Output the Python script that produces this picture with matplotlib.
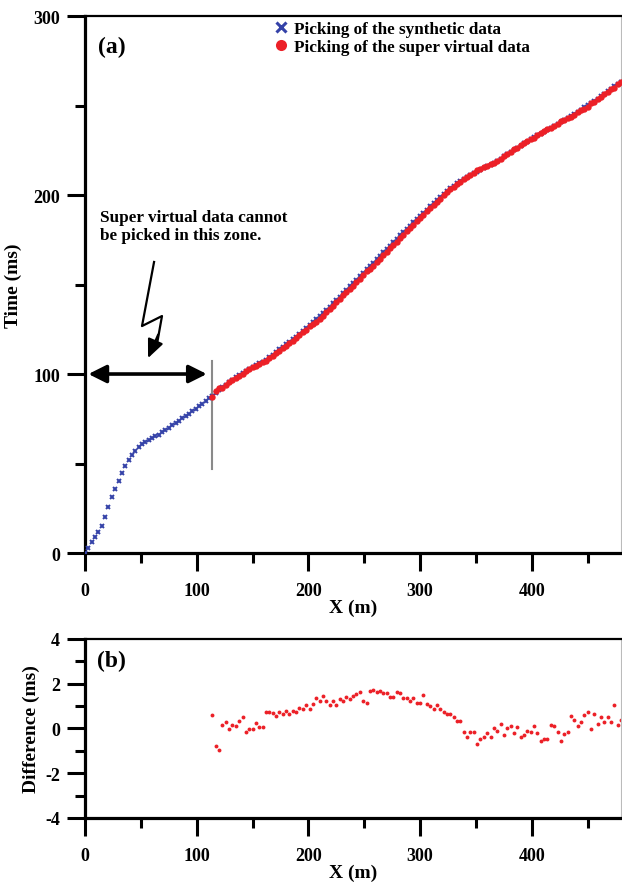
import numpy as np
import matplotlib
matplotlib.use('Agg')
import matplotlib.pyplot as plt
from matplotlib.lines import Line2D

plt.rcParams['font.family'] = 'Liberation Serif'
plt.rcParams['font.weight'] = 'bold'
plt.rcParams['axes.unicode_minus'] = False

# receiver positions (m), 3 m spacing
x_syn = np.arange(0, 481, 3)

# first-arrival picks of the synthetic data (ms)
t_syn = [0, 3.0, 6.0, 8.8, 11.5, 15.0, 20.3, 25.5, 31.4, 36.0,
         40.2, 44.5, 48.6, 51.8, 54.5, 57.2, 59.3, 61.0, 62.2, 63.1,
         64.0, 65.1, 66.2, 67.5, 68.8, 70.0, 71.3, 72.6, 73.9, 75.2,
         76.5, 77.8, 79.1, 80.5, 81.9, 83.4, 84.9, 86.4, 87.9, 89.5,
         91.0, 92.5, 94.0, 95.4, 96.8, 98.1, 99.4, 100.6, 101.7, 102.8,
         103.9, 104.9, 105.9, 106.9, 108.0, 109.4, 110.8, 112.3, 113.8, 115.3,
         116.7, 118.1, 119.4, 120.9, 122.5, 124.2, 125.9, 127.5, 129.0, 130.5,
         132.2, 134.0, 135.8, 137.6, 139.4, 141.3, 143.3, 145.2, 147.1, 149.0,
         150.9, 152.8, 154.7, 156.7, 158.6, 160.5, 162.3, 164.2, 166.1, 168.0,
         169.8, 171.7, 173.6, 175.5, 177.4, 179.3, 181.1, 182.9, 184.7, 186.5,
         188.3, 190.1, 191.9, 193.7, 195.5, 197.2, 198.9, 200.6, 202.2, 203.8,
         205.2, 206.5, 207.7, 208.8, 209.9, 211.0, 212.1, 213.1, 214.1, 215.1,
         216.0, 217.0, 218.0, 219.1, 220.3, 221.6, 222.9, 224.1, 225.3, 226.5,
         227.6, 228.8, 229.9, 231.1, 232.2, 233.3, 234.3, 235.4, 236.4, 237.5,
         238.5, 239.6, 240.7, 241.8, 242.9, 244.1, 245.3, 246.5, 247.7, 248.9,
         250.1, 251.3, 252.5, 253.8, 255.1, 256.5, 257.9, 259.3, 260.7, 262.0,
         263.3]

# super virtual picks exist only from 114 m on
first_sv = 38
x_sv = x_syn[first_sv:]

# difference synthetic - super virtual (ms)
diff = [0.60, -0.77, -0.96, 0.16, 0.30, -0.02, 0.16, 0.13, 0.35, 0.50,
        -0.17, -0.02, -0.02, 0.23, 0.06, 0.06, 0.72, 0.72, 0.68, 0.57,
        0.72, 0.65, 0.80, 0.65, 0.80, 0.72, 0.90, 0.87, 1.05, 0.87,
        1.10, 1.35, 1.24, 1.43, 1.24, 1.05, 1.24, 1.05, 1.31, 1.24,
        1.42, 1.31, 1.46, 1.54, 1.64, 1.24, 1.16, 1.69, 1.73, 1.64,
        1.69, 1.58, 1.58, 1.42, 1.42, 1.64, 1.57, 1.36, 1.36, 1.24,
        1.36, 1.16, 1.16, 1.50, 1.10, 1.02, 0.87, 1.05, 0.87, 0.72,
        0.65, 0.65, 0.50, 0.35, 0.35, -0.15, -0.36, -0.17, -0.15, -0.70,
        -0.47, -0.40, -0.20, -0.40, 0.00, -0.10, 0.20, -0.30, 0.01, 0.10,
        -0.20, 0.08, -0.40, -0.28, -0.10, -0.17, 0.13, -0.20, -0.55, -0.47,
        -0.47, 0.16, 0.13, -0.15, -0.55, -0.25, -0.17, 0.57, 0.40, 0.10,
        0.30, 0.60, 0.72, -0.02, 0.65, 0.20, 0.50, 0.28, 0.50, 0.30,
        1.05, 0.16, 0.40]

t_sv = np.array(t_syn[first_sv:]) - np.array(diff)

BLUE = '#3442a8'
RED = '#ec2027'

fig = plt.figure(figsize=(6.22, 8.87), dpi=100)
ax1 = fig.add_axes([0.1367, 0.3754, 0.862, 0.6054])
ax2 = fig.add_axes([0.1367, 0.0767, 0.862, 0.2018])


def style_axis(ax):
    for s in ['left', 'bottom']:
        ax.spines[s].set_linewidth(2.3)
    ax.spines['top'].set_linewidth(1.6)
    ax.spines['right'].set_linewidth(0.8)
    ax.spines['right'].set_color('#bbbbbb')
    ax.tick_params(which='major', direction='out', length=13, width=2.2,
                   labelsize=13, top=False, right=False)
    ax.tick_params(axis='x', which='major', pad=8)
    ax.tick_params(axis='y', which='major', pad=5)
    ax.tick_params(which='minor', direction='out', length=7, width=2.2,
                   top=False, right=False)
    ax.set_xlim(0, 480)
    ax.set_xticks([0, 100, 200, 300, 400])
    ax.set_xticks([50, 150, 250, 350, 450], minor=True)
    for lab in ax.get_xticklabels() + ax.get_yticklabels():
        lab.set_fontweight('bold')


# (a) picks
ax1.plot(x_syn, t_syn, linestyle='none', marker='x', ms=3.2, mew=1.4,
         color=BLUE, zorder=3)
ax1.plot(x_sv, t_sv, linestyle='none', marker='o', ms=4.6, mew=0,
         color=RED, zorder=4)
style_axis(ax1)
ax1.set_ylim(0, 300)
ax1.set_yticks([0, 100, 200, 300])
ax1.set_yticks([50, 150, 250], minor=True)
ax1.set_xlabel('X (m)', fontsize=14, fontweight='bold', labelpad=0)
ax1.set_ylabel('Time (ms)', fontsize=14, fontweight='bold', labelpad=8)
ax1.text(11.5, 289, '(a)', fontsize=17, fontweight='bold', va='top')

handles = [Line2D([], [], linestyle='none', marker='x', ms=7, mew=2.2, color=BLUE),
           Line2D([], [], linestyle='none', marker='o', ms=8, mew=0, color=RED)]
ax1.legend(handles, ['Picking of the synthetic data', 'Picking of the super virtual data'],
           loc='upper left', bbox_to_anchor=(0.352, 0.99), frameon=False,
           borderpad=0, borderaxespad=0, handlelength=0.8, handletextpad=0.4,
           labelspacing=0.12, prop={'family': 'Liberation Serif', 'weight': 'bold', 'size': 12.3})

# zone annotation
ax1.plot([113.4, 113.4], [47, 107], color='#8a8a8a', lw=1.5, zorder=2)
ax1.annotate('', xy=(3, 100), xytext=(109, 100),
             arrowprops=dict(arrowstyle='<|-|>,head_length=0.6,head_width=0.3',
                             color='black', lw=2.6, mutation_scale=18,
                             shrinkA=0, shrinkB=0))
ax1.plot([61.8, 51.0, 68.9, 64.5], [162.6, 126.8, 132.4, 117.0], color='black', lw=1.6)
ax1.annotate('', xy=(56.4, 108.9), xytext=(65.5, 122.0),
             arrowprops=dict(arrowstyle='-|>,head_length=0.8,head_width=0.35',
                             color='black', lw=1.6, mutation_scale=14,
                             shrinkA=0, shrinkB=0))
ax1.text(13.4, 192, 'Super virtual data cannot\nbe picked in this zone.',
         fontsize=12.3, fontweight='bold', va='top', linespacing=1.1)

# (b) difference
ax2.plot(x_sv, diff, linestyle='none', marker='o', ms=2.8, mew=0, color=RED)
style_axis(ax2)
ax2.set_ylim(-4, 4)
ax2.set_yticks([-4, -2, 0, 2, 4])
ax2.set_yticks([-3, -1, 1, 3], minor=True)
ax2.set_xlabel('X (m)', fontsize=14, fontweight='bold', labelpad=0)
ax2.set_ylabel('Difference (ms)', fontsize=14, fontweight='bold', labelpad=4)
ax2.text(10.7, 3.5, '(b)', fontsize=17, fontweight='bold', va='top')

fig.savefig('out.png', dpi=100)
